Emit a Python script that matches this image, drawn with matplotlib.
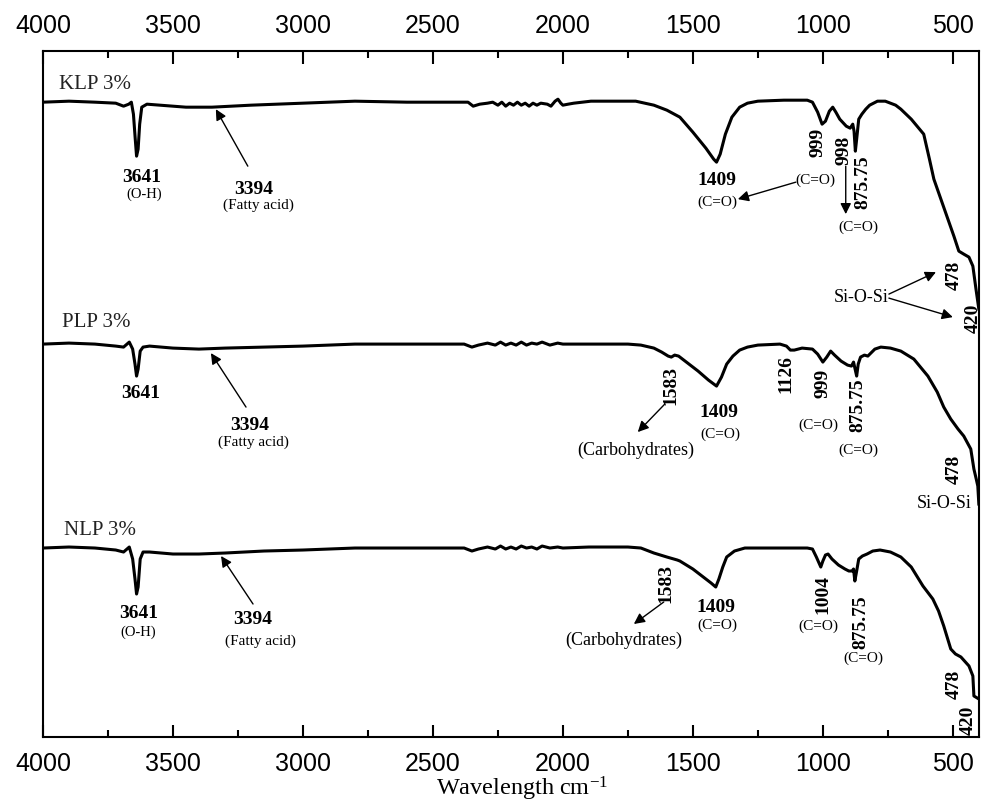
import matplotlib
matplotlib.use("Agg")
import matplotlib.pyplot as plt
from matplotlib.ticker import MultipleLocator

# --- spectra (wavenumber cm-1, intensity a.u. with vertical offsets) ---
klp_w = [4000, 3900, 3800, 3720, 3690, 3670, 3660, 3652, 3645, 3640, 3634, 3628, 3620, 3600,
         3550, 3450, 3350, 3200, 3000, 2800, 2600, 2470, 2365, 2345, 2320, 2290, 2270, 2250,
         2235, 2220, 2205, 2190, 2175, 2160, 2145, 2130, 2115, 2100, 2085, 2060, 2046, 2030,
         2019, 2008, 2000, 1980, 1958, 1892, 1800, 1720, 1650, 1600, 1550, 1500, 1450, 1420,
         1409, 1395, 1375, 1350, 1320, 1290, 1250, 1150, 1060, 1040, 1020, 1003, 990, 975,
         962, 950, 935, 910, 895, 885, 880, 875, 870, 862, 850, 835, 820, 790, 760, 720, 700,
         660, 612, 590, 573, 546, 519, 496, 477, 458, 438, 423, 411, 400]
klp_y = [635, 636, 635, 634, 631, 633, 635, 623, 598, 581, 588, 613, 630, 633,
         632, 630, 630, 632, 634, 636, 635, 635, 635, 631, 633, 634, 635, 632,
         635, 631, 634, 632, 635, 632, 634, 631, 634, 632, 634, 633, 631, 636,
         638, 634, 632, 633, 634, 636, 636, 636, 632, 627, 620, 605, 589, 578,
         575, 583, 603, 620, 630, 634, 636, 637, 637, 635, 625, 613, 616, 626,
         630, 625, 618, 611, 609, 613, 606, 586, 598, 618, 623, 628, 632, 636, 636, 632, 628,
         618, 603, 578, 558, 538, 518, 501, 486, 483, 480, 471, 448, 428]

plp_w = [4000, 3900, 3800, 3720, 3690, 3668, 3655, 3646, 3640, 3634, 3626, 3615, 3590, 3500,
         3400, 3300, 3150, 3000, 2800, 2500, 2380, 2350, 2325, 2290, 2260, 2240, 2220, 2200,
         2180, 2160, 2140, 2120, 2100, 2080, 2050, 2020, 2000, 1900, 1750, 1700, 1650, 1620,
         1595, 1583, 1570, 1555, 1520, 1480, 1440, 1409, 1390, 1370, 1346, 1320, 1290, 1250,
         1165, 1140, 1125, 1110, 1080, 1040, 1020, 1000, 985, 970, 955, 930, 905, 890, 882,
         876, 870, 864, 855, 840, 827, 800, 777, 740, 700, 650, 596, 560, 535, 508, 480, 458,
         431, 419, 410, 404, 400]
plp_y = [393, 394, 393, 391, 390, 395, 388, 373, 361, 368, 386, 390, 391, 389,
         388, 389, 390, 391, 393, 393, 393, 390, 392, 394, 392, 395, 392, 394,
         392, 395, 392, 394, 393, 395, 392, 394, 393, 393, 393, 392, 389, 385,
         381, 380, 382, 381, 374, 366, 357, 351, 360, 373, 381, 387, 390, 392,
         393, 391, 387, 387, 389, 388, 383, 375, 380, 386, 382, 376, 372, 371, 375,
         368, 361, 373, 380, 382, 381, 388, 390, 389, 386, 378, 361, 345, 330, 318, 308, 301,
         288, 268, 258, 251, 233]

nlp_w = [4000, 3900, 3800, 3720, 3690, 3668, 3655, 3646, 3640, 3634, 3626, 3615, 3590, 3500,
         3400, 3300, 3150, 3000, 2800, 2500, 2380, 2350, 2325, 2290, 2260, 2240, 2220, 2200,
         2180, 2160, 2140, 2120, 2100, 2080, 2050, 2020, 2000, 1900, 1750, 1700, 1650, 1600,
         1560, 1550, 1500, 1460, 1430, 1412, 1400, 1385, 1370, 1340, 1300, 1200, 1060, 1040,
         1025, 1008, 1000, 990, 980, 965, 940, 915, 900, 888, 882, 877, 870, 862, 848, 830,
         808, 780, 740, 700, 660, 615, 577, 555, 535, 508, 490, 469, 438, 423, 419, 400]
nlp_y = [189, 190, 189, 187, 185, 190, 178, 158, 143, 150, 178, 185, 185, 183,
         183, 184, 186, 187, 189, 189, 189, 186, 188, 190, 188, 191, 188, 190,
         188, 191, 189, 190, 188, 191, 189, 190, 189, 190, 190, 189, 184, 180,
         177, 176, 168, 160, 154, 150, 158, 170, 180, 186, 189, 189, 189, 188,
         180, 170, 176, 182, 183, 178, 172, 168, 166, 166, 168, 156, 166, 178, 181, 183,
         186, 187, 185, 180, 170, 151, 138, 126, 111, 88, 83, 80, 71, 61, 41, 38]

xticks = [4000, 3500, 3000, 2500, 2000, 1500, 1000, 500]

SERIF = "Liberation Serif"
SANS = "Liberation Sans"
plt.rcParams["mathtext.fontset"] = "custom"
plt.rcParams["mathtext.rm"] = SERIF
plt.rcParams["mathtext.default"] = "rm"

fig = plt.figure(figsize=(9.81, 8.03), dpi=100)
ax = fig.add_axes([0.0438, 0.081, 0.954, 0.854])

for w, y in [(klp_w, klp_y), (plp_w, plp_y), (nlp_w, nlp_y)]:
    ax.plot(w, y, color="black", lw=2.2, solid_joinstyle="round")

ax.set_xlim(4000, 400)
ax.set_ylim(0, 686)
ax.set_yticks([])
ax.set_xticks(xticks)
ax.xaxis.set_minor_locator(MultipleLocator(250))
ax.tick_params(axis="x", which="both", direction="in", top=True, bottom=True,
               labeltop=True, labelbottom=True, width=1.5)
ax.tick_params(axis="x", which="major", length=9, labelsize=18, pad=10)
ax.tick_params(axis="x", which="minor", length=5)
for t in ax.xaxis.get_major_ticks():
    t.label1.set_family(SANS)
    t.label2.set_family(SANS)
for s in ax.spines.values():
    s.set_linewidth(1.5)

ax.set_xlabel("Wavelength cm$^{-1}$", family=SERIF, fontsize=17.5)
ax.xaxis.set_label_coords(0.512, -0.054)

def num(x, y, s, rot=0):
    ax.text(x, y, s, family=SERIF, fontsize=14, weight="bold", rotation=rot,
            ha="center", va="center")

def note(x, y, s, size=11):
    ax.text(x, y, s, family=SERIF, fontsize=size, ha="center", va="center")

def arrow(tail, tip):
    ax.annotate("", xy=tip, xytext=tail,
                arrowprops=dict(arrowstyle="-|>", color="black", lw=1.0,
                                mutation_scale=16, shrinkA=0, shrinkB=0))

# sample labels
for x, y, s in [(3938, 654, "KLP 3%"), (3927, 416, "PLP 3%"), (3919, 208, "NLP 3%")]:
    ax.text(x, y, s, family=SERIF, fontsize=15, ha="left", va="center", color="#222")

# KLP
num(3619, 561, "3641"); note(3612, 544, "(O-H)", 10.5)
num(3188, 549, "3394"); note(3173, 533, "(Fatty acid)")
arrow((3212, 571), (3335, 628))
num(1408, 558, "1409"); note(1404, 536, "(C=O)")
note(1027, 558, "(C=O)")
arrow((1104, 555), (1327, 538))
num(1019, 596, "999", 90)
num(919, 588, "998", 90)
arrow((912, 571), (912, 523))
note(865, 511, "(C=O)")
num(846, 556, "875.75", 90)
note(854, 441, "Si-O-Si", 13)
arrow((746, 443), (565, 465))
arrow((746, 439), (500, 420))
num(496, 463, "478", 90)
num(423, 420, "420", 90)

# PLP
num(3623, 345, "3641")
num(3204, 313, "3394"); note(3192, 296, "(Fatty acid)")
arrow((3219, 330), (3354, 384))
num(1585, 353, "1583", 90)
note(1719, 288, "(Carbohydrates)", 13)
arrow((1608, 333), (1712, 305))
num(1400, 326, "1409"); note(1396, 304, "(C=O)")
num(1142, 364, "1126", 90)
num(1000, 355, "999", 90); note(1019, 313, "(C=O)")
num(865, 333, "875.75", 90); note(865, 288, "(C=O)")
num(496, 269, "478", 90)
note(535, 235, "Si-O-Si", 13)

# NLP
num(3631, 125, "3641"); note(3635, 106, "(O-H)", 10.5)
num(3192, 118, "3394"); note(3162, 97, "(Fatty acid)")
arrow((3192, 133), (3315, 181))
num(1604, 155, "1583", 90)
note(1765, 98, "(Carbohydrates)", 13)
arrow((1612, 135), (1727, 113))
num(1412, 131, "1409"); note(1404, 113, "(C=O)")
num(1000, 144, "1004", 90); note(1019, 112, "(C=O)")
num(854, 116, "875.75", 90); note(846, 80, "(C=O)")
num(496, 54, "478", 90)
num(442, 18, "420", 90)

fig.savefig("out.png", dpi=100)
